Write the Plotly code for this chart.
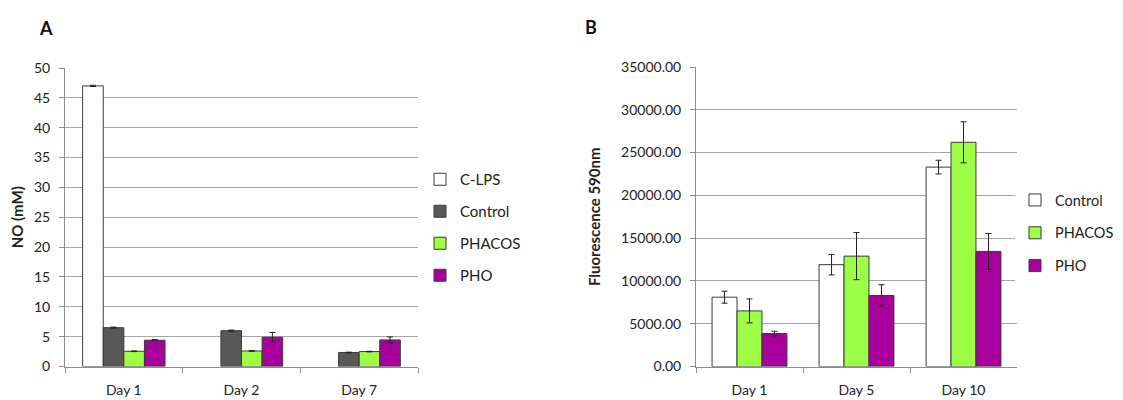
import plotly.graph_objects as go

# ---- Panel A data ----
days_a = ["Day 1", "Day 2", "Day 7"]
clps_a = [47.0, None, None]
clps_a_err = [0.1, None, None]
control_a = [6.5, 6.0, 2.35]
control_a_err = [0.1, 0.1, 0.05]
phacos_a = [2.55, 2.6, 2.5]
phacos_a_err = [0.05, 0.05, 0.05]
pho_a = [4.4, 4.9, 4.45]
pho_a_err = [0.1, 0.8, 0.5]

# ---- Panel B data ----
days_b = ["Day 1", "Day 5", "Day 10"]
control_b = [8100, 11900, 23300]
control_b_err = [700, 1200, 800]
phacos_b = [6500, 12900, 26200]
phacos_b_err = [1400, 2750, 2400]
pho_b = [3850, 8300, 13450]
pho_b_err = [270, 1250, 2100]

C_WHITE = "#ffffff"
C_GRAY = "#585858"
C_GREEN = "#9cff45"
C_PURPLE = "#a8009c"
EDGE = "#3a3a3a"
FONT = "Lato"

# page body has an 8px margin; size the figure to fit the window
OFF = 8
W, H = 1123 - OFF, 400 - OFF

def px(p):
    return (p - OFF) / W

def py(p):
    return 1 - (p - OFF) / H

fig = go.Figure()

def add_bar(x, y, err, name, color, xa, ya, legend, group):
    fig.add_trace(go.Bar(
        x=x, y=y, name=name,
        marker=dict(color=color, line=dict(color=EDGE, width=1)),
        error_y=dict(type="data", array=err, visible=True, color="#222222",
                     thickness=1, width=3),
        xaxis=xa, yaxis=ya, legend=legend, legendgroup=group,
    ))

add_bar(days_a, clps_a, clps_a_err, "C-LPS", C_WHITE, "x", "y", "legend", "a1")
add_bar(days_a, control_a, control_a_err, "Control", C_GRAY, "x", "y", "legend", "a2")
add_bar(days_a, phacos_a, phacos_a_err, "PHACOS", C_GREEN, "x", "y", "legend", "a3")
add_bar(days_a, pho_a, pho_a_err, "PHO", C_PURPLE, "x", "y", "legend", "a4")

add_bar(days_b, control_b, control_b_err, "Control", C_WHITE, "x2", "y2", "legend2", "b1")
add_bar(days_b, phacos_b, phacos_b_err, "PHACOS", C_GREEN, "x2", "y2", "legend2", "b2")
add_bar(days_b, pho_b, pho_b_err, "PHO", C_PURPLE, "x2", "y2", "legend2", "b3")

axis_common = dict(showline=True, linecolor="#8c8c8c", linewidth=1,
                   ticks="outside", tickcolor="#8c8c8c", ticklen=5,
                   tickfont=dict(family=FONT, size=14, color="#222222"))

fig.update_layout(
    width=W, height=H,
    margin=dict(l=0, r=0, t=0, b=0, autoexpand=False),
    plot_bgcolor="white", paper_bgcolor="white",
    barmode="group", bargap=0.3, bargroupgap=0,
    font=dict(family=FONT, color="#222222"),
    xaxis=dict(domain=[px(65), px(418)], anchor="y", tickson="boundaries",
               ticklabelstandoff=11, **axis_common),
    yaxis=dict(domain=[py(366.5), py(68)], anchor="x", range=[0, 50], dtick=5,
               showgrid=True, gridcolor="#a6a6a6", gridwidth=1,
               ticklabelstandoff=6,
               title=dict(text="<b>NO (mM)</b>", font=dict(family=FONT, size=15), standoff=10),
               **axis_common),
    xaxis2=dict(domain=[px(696), px(1017)], anchor="y2", tickson="boundaries",
                ticklabelstandoff=11, **axis_common),
    yaxis2=dict(domain=[py(366.5), py(67)], anchor="x2", range=[0, 35000], dtick=5000,
                tickformat=".2f", showgrid=True, gridcolor="#a6a6a6", gridwidth=1,
                ticklabelstandoff=6,
                title=dict(text="<b>Fluorescence 590nm</b>", font=dict(family=FONT, size=15), standoff=16),
                **axis_common),
    legend=dict(x=px(420), y=py(163), xanchor="left", yanchor="top",
                traceorder="grouped", tracegroupgap=9.5,
                font=dict(family=FONT, size=15, color="#222222")),
    legend2=dict(x=px(1015), y=py(184), xanchor="left", yanchor="top",
                 traceorder="grouped", tracegroupgap=11,
                 font=dict(family=FONT, size=14.5, color="#222222")),
    annotations=[
        dict(text="<b>A</b>", x=px(46), y=py(28), xref="paper", yref="paper",
             xanchor="center", yanchor="middle",
             showarrow=False, font=dict(family=FONT, size=18, color="#111111")),
        dict(text="<b>B</b>", x=px(591), y=py(27), xref="paper", yref="paper",
             xanchor="center", yanchor="middle",
             showarrow=False, font=dict(family=FONT, size=18, color="#111111")),
    ],
)

fig.write_html("out.html")
